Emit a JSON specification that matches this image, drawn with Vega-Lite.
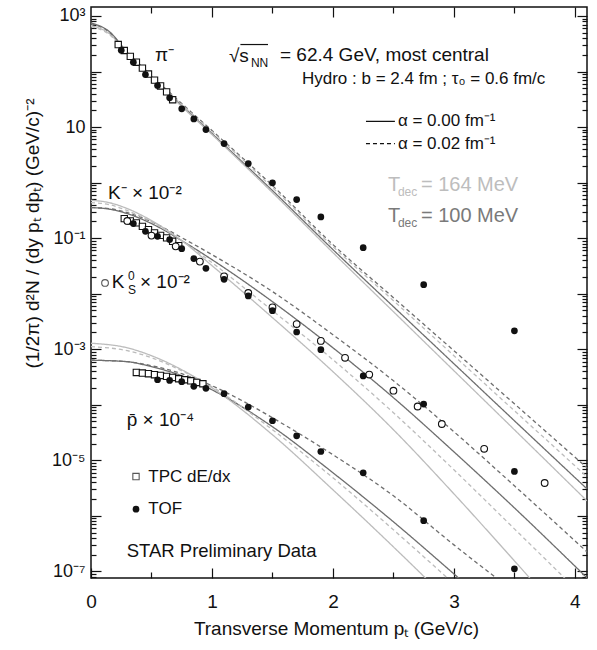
{
  "$schema": "https://vega.github.io/schema/vega-lite/v6.json",
  "width": 496,
  "height": 571,
  "autosize": "none",
  "padding": {"left": 91, "top": 7, "right": 10, "bottom": 72},
  "background": "white",
  "config": {
    "font": "Liberation Sans",
    "view": {"stroke": "#111", "strokeWidth": 1.5},
    "axis": {"domain": false, "grid": false, "tickColor": "#111", "tickWidth": 1.2, "labelColor": "#111", "titleColor": "#111", "labelFont": "Liberation Sans", "titleFont": "Liberation Sans", "titleFontWeight": "normal", "labelOverlap": false, "labelBound": false, "labelFlush": false}
  },
  "datasets": {
    "curves": [
      {"s":"pi","T":"100","a":"0.00","x":0,"y":748},{"s":"pi","T":"100","a":"0.00","x":0.15,"y":526},{"s":"pi","T":"100","a":"0.00","x":0.3,"y":220},{"s":"pi","T":"100","a":"0.00","x":0.5,"y":81.3},{"s":"pi","T":"100","a":"0.00","x":0.75,"y":24.4},{"s":"pi","T":"100","a":"0.00","x":1,"y":7.64},{"s":"pi","T":"100","a":"0.00","x":1.5,"y":0.718},{"s":"pi","T":"100","a":"0.00","x":2,"y":0.0621},{"s":"pi","T":"100","a":"0.00","x":2.5,"y":0.00583},{"s":"pi","T":"100","a":"0.00","x":3,"y":0.000548},{"s":"pi","T":"100","a":"0.00","x":3.5,"y":0.0000515},{"s":"pi","T":"100","a":"0.00","x":4.1,"y":0.00000306},
      {"s":"pi","T":"164","a":"0.00","x":0,"y":674},{"s":"pi","T":"164","a":"0.00","x":0.15,"y":484},{"s":"pi","T":"164","a":"0.00","x":0.3,"y":211},{"s":"pi","T":"164","a":"0.00","x":0.5,"y":78},{"s":"pi","T":"164","a":"0.00","x":0.75,"y":23.4},{"s":"pi","T":"164","a":"0.00","x":1,"y":7.33},{"s":"pi","T":"164","a":"0.00","x":1.5,"y":0.66},{"s":"pi","T":"164","a":"0.00","x":2,"y":0.0548},{"s":"pi","T":"164","a":"0.00","x":2.5,"y":0.00474},{"s":"pi","T":"164","a":"0.00","x":3,"y":0.00041},{"s":"pi","T":"164","a":"0.00","x":3.5,"y":0.0000355},{"s":"pi","T":"164","a":"0.00","x":4.1,"y":0.00000186},
      {"s":"pi","T":"100","a":"0.02","x":0,"y":733},{"s":"pi","T":"100","a":"0.02","x":0.15,"y":515},{"s":"pi","T":"100","a":"0.02","x":0.3,"y":220},{"s":"pi","T":"100","a":"0.02","x":0.5,"y":84.7},{"s":"pi","T":"100","a":"0.02","x":0.75,"y":26.5},{"s":"pi","T":"100","a":"0.02","x":1,"y":8.65},{"s":"pi","T":"100","a":"0.02","x":1.5,"y":0.883},{"s":"pi","T":"100","a":"0.02","x":2,"y":0.0764},{"s":"pi","T":"100","a":"0.02","x":2.5,"y":0.00847},{"s":"pi","T":"100","a":"0.02","x":3,"y":0.00094},{"s":"pi","T":"100","a":"0.02","x":3.5,"y":0.000104},{"s":"pi","T":"100","a":"0.02","x":4.1,"y":0.00000733},
      {"s":"pi","T":"164","a":"0.02","x":0,"y":647},{"s":"pi","T":"164","a":"0.02","x":0.15,"y":464},{"s":"pi","T":"164","a":"0.02","x":0.3,"y":207},{"s":"pi","T":"164","a":"0.02","x":0.5,"y":81.3},{"s":"pi","T":"164","a":"0.02","x":0.75,"y":25.4},{"s":"pi","T":"164","a":"0.02","x":1,"y":8.29},{"s":"pi","T":"164","a":"0.02","x":1.5,"y":0.813},{"s":"pi","T":"164","a":"0.02","x":2,"y":0.0703},{"s":"pi","T":"164","a":"0.02","x":2.5,"y":0.00748},{"s":"pi","T":"164","a":"0.02","x":3,"y":0.000764},{"s":"pi","T":"164","a":"0.02","x":3.5,"y":0.000078},{"s":"pi","T":"164","a":"0.02","x":4.1,"y":0.00000505},
      {"s":"k","T":"100","a":"0.02","x":0,"y":0.355},{"s":"k","T":"100","a":"0.02","x":0.15,"y":0.34},{"s":"k","T":"100","a":"0.02","x":0.3,"y":0.288},{"s":"k","T":"100","a":"0.02","x":0.5,"y":0.198},{"s":"k","T":"100","a":"0.02","x":0.75,"y":0.102},{"s":"k","T":"100","a":"0.02","x":1,"y":0.0504},{"s":"k","T":"100","a":"0.02","x":1.5,"y":0.0109},{"s":"k","T":"100","a":"0.02","x":2,"y":0.00182},{"s":"k","T":"100","a":"0.02","x":2.5,"y":0.00027},{"s":"k","T":"100","a":"0.02","x":3,"y":0.0000327},{"s":"k","T":"100","a":"0.02","x":3.5,"y":0.00000347},{"s":"k","T":"100","a":"0.02","x":4.1,"y":2.25e-7},
      {"s":"k","T":"100","a":"0.00","x":0,"y":0.355},{"s":"k","T":"100","a":"0.00","x":0.15,"y":0.333},{"s":"k","T":"100","a":"0.00","x":0.3,"y":0.276},{"s":"k","T":"100","a":"0.00","x":0.5,"y":0.183},{"s":"k","T":"100","a":"0.00","x":0.75,"y":0.0902},{"s":"k","T":"100","a":"0.00","x":1,"y":0.041},{"s":"k","T":"100","a":"0.00","x":1.5,"y":0.00718},{"s":"k","T":"100","a":"0.00","x":2,"y":0.00106},{"s":"k","T":"100","a":"0.00","x":2.5,"y":0.000134},{"s":"k","T":"100","a":"0.00","x":3,"y":0.0000142},{"s":"k","T":"100","a":"0.00","x":3.5,"y":0.00000139},{"s":"k","T":"100","a":"0.00","x":4.1,"y":7.64e-8},
      {"s":"k","T":"164","a":"0.02","x":0,"y":0.436},{"s":"k","T":"164","a":"0.02","x":0.15,"y":0.402},{"s":"k","T":"164","a":"0.02","x":0.3,"y":0.313},{"s":"k","T":"164","a":"0.02","x":0.5,"y":0.198},{"s":"k","T":"164","a":"0.02","x":0.75,"y":0.0902},{"s":"k","T":"164","a":"0.02","x":1,"y":0.0362},{"s":"k","T":"164","a":"0.02","x":1.5,"y":0.00494},{"s":"k","T":"164","a":"0.02","x":2,"y":0.000647},{"s":"k","T":"164","a":"0.02","x":2.5,"y":0.0000718},{"s":"k","T":"164","a":"0.02","x":3,"y":0.00000674},{"s":"k","T":"164","a":"0.02","x":3.5,"y":5.83e-7},{"s":"k","T":"164","a":"0.02","x":4.1,"y":3.06e-8},
      {"s":"k","T":"164","a":"0.00","x":0,"y":0.48},{"s":"k","T":"164","a":"0.00","x":0.15,"y":0.436},{"s":"k","T":"164","a":"0.00","x":0.3,"y":0.34},{"s":"k","T":"164","a":"0.00","x":0.5,"y":0.207},{"s":"k","T":"164","a":"0.00","x":0.75,"y":0.0902},{"s":"k","T":"164","a":"0.00","x":1,"y":0.032},{"s":"k","T":"164","a":"0.00","x":1.5,"y":0.0037},{"s":"k","T":"164","a":"0.00","x":2,"y":0.000394},{"s":"k","T":"164","a":"0.00","x":2.5,"y":0.0000355},{"s":"k","T":"164","a":"0.00","x":3,"y":0.00000249},{"s":"k","T":"164","a":"0.00","x":3.5,"y":1.55e-7},{"s":"k","T":"164","a":"0.00","x":4.1,"y":5.15e-9},
      {"s":"p","T":"100","a":"0.02","x":0,"y":0.000634},{"s":"p","T":"100","a":"0.02","x":0.3,"y":0.000596},{"s":"p","T":"100","a":"0.02","x":0.5,"y":0.000505},{"s":"p","T":"100","a":"0.02","x":0.75,"y":0.000362},{"s":"p","T":"100","a":"0.02","x":1,"y":0.00022},{"s":"p","T":"100","a":"0.02","x":1.25,"y":0.000118},{"s":"p","T":"100","a":"0.02","x":1.5,"y":0.0000583},{"s":"p","T":"100","a":"0.02","x":2,"y":0.0000126},{"s":"p","T":"100","a":"0.02","x":2.5,"y":0.00000229},{"s":"p","T":"100","a":"0.02","x":3,"y":3.0e-7},{"s":"p","T":"100","a":"0.02","x":3.5,"y":4.27e-8},
      {"s":"p","T":"100","a":"0.00","x":0,"y":0.000634},{"s":"p","T":"100","a":"0.00","x":0.3,"y":0.000596},{"s":"p","T":"100","a":"0.00","x":0.5,"y":0.000484},{"s":"p","T":"100","a":"0.00","x":0.75,"y":0.000333},{"s":"p","T":"100","a":"0.00","x":1,"y":0.000186},{"s":"p","T":"100","a":"0.00","x":1.5,"y":0.0000402},{"s":"p","T":"100","a":"0.00","x":2,"y":0.00000596},{"s":"p","T":"100","a":"0.00","x":2.5,"y":7.8e-7},{"s":"p","T":"100","a":"0.00","x":3,"y":9e-8},{"s":"p","T":"100","a":"0.00","x":3.5,"y":1e-8},
      {"s":"p","T":"164","a":"0.00","x":0,"y":0.00128},{"s":"p","T":"164","a":"0.00","x":0.3,"y":0.00106},{"s":"p","T":"164","a":"0.00","x":0.5,"y":0.000764},{"s":"p","T":"164","a":"0.00","x":0.75,"y":0.000427},{"s":"p","T":"164","a":"0.00","x":1,"y":0.000202},{"s":"p","T":"164","a":"0.00","x":1.5,"y":0.0000288},{"s":"p","T":"164","a":"0.00","x":2,"y":0.00000294},{"s":"p","T":"164","a":"0.00","x":2.5,"y":2.76e-7},{"s":"p","T":"164","a":"0.00","x":3,"y":2.39e-8},
      {"s":"p","T":"164","a":"0.02","x":0,"y":0.00111},{"s":"p","T":"164","a":"0.02","x":0.3,"y":0.00094},{"s":"p","T":"164","a":"0.02","x":0.5,"y":0.000703},{"s":"p","T":"164","a":"0.02","x":0.75,"y":0.00041},{"s":"p","T":"164","a":"0.02","x":1,"y":0.000211},{"s":"p","T":"164","a":"0.02","x":1.5,"y":0.0000355},{"s":"p","T":"164","a":"0.02","x":2,"y":0.00000484},{"s":"p","T":"164","a":"0.02","x":2.5,"y":5.6e-7},{"s":"p","T":"164","a":"0.02","x":3,"y":5.96e-8}
    ],
    "tof": [
      {"s":"pi","x":0.25,"y":242},{"s":"pi","x":0.35,"y":147},{"s":"pi","x":0.45,"y":88},{"s":"pi","x":0.55,"y":56},{"s":"pi","x":0.65,"y":33.6},{"s":"pi","x":0.75,"y":21.3},{"s":"pi","x":0.85,"y":14},{"s":"pi","x":0.95,"y":9},{"s":"pi","x":1.1,"y":5.04},{"s":"pi","x":1.3,"y":2.2},{"s":"pi","x":1.5,"y":0.99},{"s":"pi","x":1.7,"y":0.494},{"s":"pi","x":1.9,"y":0.241},{"s":"pi","x":2.25,"y":0.0674},{"s":"pi","x":2.75,"y":0.0145},{"s":"pi","x":3.5,"y":0.00214},
      {"s":"k","x":0.35,"y":0.1825},{"s":"k","x":0.45,"y":0.1327},{"s":"k","x":0.55,"y":0.108},{"s":"k","x":0.65,"y":0.094},{"s":"k","x":0.75,"y":0.0647},{"s":"k","x":0.85,"y":0.0428},{"s":"k","x":0.95,"y":0.0286},{"s":"k","x":1.1,"y":0.0181},{"s":"k","x":1.3,"y":0.0091},{"s":"k","x":1.5,"y":0.00494},{"s":"k","x":1.7,"y":0.00204},{"s":"k","x":1.9,"y":0.00098},{"s":"k","x":2.25,"y":0.00033},{"s":"k","x":2.75,"y":0.000103},{"s":"k","x":3.5,"y":0.0000063},
      {"s":"p","x":0.55,"y":0.000282},{"s":"p","x":0.65,"y":0.000274},{"s":"p","x":0.75,"y":0.00026},{"s":"p","x":0.85,"y":0.000215},{"s":"p","x":0.95,"y":0.000198},{"s":"p","x":1.1,"y":0.000158},{"s":"p","x":1.3,"y":0.000091},{"s":"p","x":1.5,"y":0.0000515},{"s":"p","x":1.7,"y":0.0000276},{"s":"p","x":1.9,"y":0.0000144},{"s":"p","x":2.25,"y":0.00000595},{"s":"p","x":2.75,"y":8.2e-7},{"s":"p","x":3.5,"y":1.11e-7}
    ],
    "tpc": [
      {"s":"pi","x":0.225,"y":306},{"s":"pi","x":0.275,"y":239},{"s":"pi","x":0.325,"y":187},{"s":"pi","x":0.375,"y":147},{"s":"pi","x":0.425,"y":115},{"s":"pi","x":0.475,"y":90},{"s":"pi","x":0.525,"y":70},{"s":"pi","x":0.575,"y":55},{"s":"pi","x":0.625,"y":43},{"s":"pi","x":0.675,"y":31},
      {"s":"k","x":0.275,"y":0.2245},{"s":"k","x":0.325,"y":0.204},{"s":"k","x":0.375,"y":0.188},{"s":"k","x":0.425,"y":0.163},{"s":"k","x":0.475,"y":0.142},{"s":"k","x":0.525,"y":0.124},{"s":"k","x":0.575,"y":0.112},{"s":"k","x":0.625,"y":0.101},{"s":"k","x":0.675,"y":0.0876},{"s":"k","x":0.725,"y":0.0733},
      {"s":"p","x":0.375,"y":0.000382},{"s":"p","x":0.425,"y":0.000372},{"s":"p","x":0.475,"y":0.000362},{"s":"p","x":0.525,"y":0.000348},{"s":"p","x":0.575,"y":0.000337},{"s":"p","x":0.625,"y":0.000324},{"s":"p","x":0.675,"y":0.00031},{"s":"p","x":0.725,"y":0.000294},{"s":"p","x":0.775,"y":0.000282},{"s":"p","x":0.825,"y":0.00027},{"s":"p","x":0.875,"y":0.000252},{"s":"p","x":0.925,"y":0.000239}
    ],
    "k0s": [
      {"x":0.3,"y":0.204},{"x":0.5,"y":0.111},{"x":0.7,"y":0.0711},{"x":0.9,"y":0.0378},{"x":1.1,"y":0.0205},{"x":1.3,"y":0.0103},{"x":1.5,"y":0.00566},{"x":1.7,"y":0.00284},{"x":1.9,"y":0.00141},{"x":2.1,"y":0.0007},{"x":2.3,"y":0.00035},{"x":2.5,"y":0.000179},{"x":2.7,"y":0.000093},{"x":2.9,"y":0.000045},{"x":3.25,"y":0.0000161},{"x":3.75,"y":0.0000039}
    ]
  },
  "layer": [
    {
      "data": {"name": "curves"},
      "mark": {"type": "line", "strokeWidth": 1.3, "clip": true, "interpolate": "monotone"},
      "encoding": {
        "x": {"field": "x", "type": "quantitative", "scale": {"domain": [0, 4.1], "nice": false, "zero": false},
          "axis": {"orient": "bottom", "values": [0, 0.5, 1, 1.5, 2, 2.5, 3, 3.5, 4],
            "tickSize": {"condition": {"test": "datum.value % 1 === 0", "value": -10}, "value": -6},
            "labelExpr": "datum.value % 1 === 0 ? format(datum.value, 'd') : ''",
            "labelFontSize": 19, "labelPadding": 24,
            "title": "Transverse Momentum pₜ (GeV/c)", "titleFontSize": 19, "titleX": 245, "titleY": 50, "titleBaseline": "middle", "titleAnchor": "middle", "titleAlign": "center"}},
        "y": {"field": "y", "type": "quantitative", "scale": {"type": "log", "domain": [7.6e-8, 1450], "nice": false},
          "axis": {"orient": "left",
            "values": [8e-8,9e-8,1e-7,2e-7,3e-7,4e-7,5e-7,6e-7,7e-7,8e-7,9e-7,1e-6,2e-6,3e-6,4e-6,5e-6,6e-6,7e-6,8e-6,9e-6,1e-5,2e-5,3e-5,4e-5,5e-5,6e-5,7e-5,8e-5,9e-5,1e-4,2e-4,3e-4,4e-4,5e-4,6e-4,7e-4,8e-4,9e-4,0.001,0.002,0.003,0.004,0.005,0.006,0.007,0.008,0.009,0.01,0.02,0.03,0.04,0.05,0.06,0.07,0.08,0.09,0.1,0.2,0.3,0.4,0.5,0.6,0.7,0.8,0.9,1,2,3,4,5,6,7,8,9,10,20,30,40,50,60,70,80,90,100,200,300,400,500,600,700,800,900,1000],
            "tickSize": {"condition": {"test": "indexof([1000,100,10,1,0.1,0.01,0.001,0.0001,0.00001,0.000001,1e-7], datum.value) >= 0", "value": -10}, "value": -5},
            "labelExpr": "datum.value == 1000 ? '10³' : datum.value == 10 ? '10' : datum.value == 0.1 ? '10⁻¹' : datum.value == 0.001 ? '10⁻³' : datum.value == 0.00001 ? '10⁻⁵' : datum.value == 1e-7 ? '10⁻⁷' : ''",
            "labelFontSize": 18, "labelPadding": 16,
            "title": "(1/2π) d²N / (dy pₜ dpₜ) (GeV/c)⁻²", "titleFontSize": 19, "titleX": -59, "titleY": 226, "titleBaseline": "middle", "titleAnchor": "middle", "titleAlign": "center", "titleAngle": 270}},
        "color": {"field": "T", "type": "nominal", "scale": {"domain": ["164", "100"], "range": ["#bcbcbc", "#6e6e6e"]}, "legend": null},
        "strokeDash": {"field": "a", "type": "nominal", "scale": {"domain": ["0.00", "0.02"], "range": [[1, 0], [4, 3]]}, "legend": null},
        "detail": {"field": "s"}
      }
    },
    {
      "data": {"name": "tpc"},
      "mark": {"type": "point", "shape": "square", "size": 40, "filled": false, "stroke": "#111", "strokeWidth": 1.1, "fill": "white", "fillOpacity": 1},
      "encoding": {"x": {"field": "x", "type": "quantitative", "axis": null}, "y": {"field": "y", "type": "quantitative", "axis": null}}
    },
    {
      "data": {"name": "k0s"},
      "mark": {"type": "point", "shape": "circle", "size": 45, "filled": false, "stroke": "#111", "strokeWidth": 1.1, "fill": "white", "fillOpacity": 1},
      "encoding": {"x": {"field": "x", "type": "quantitative", "axis": null}, "y": {"field": "y", "type": "quantitative", "axis": null}}
    },
    {
      "data": {"name": "tof"},
      "mark": {"type": "point", "shape": "circle", "size": 45, "filled": true, "color": "#111", "opacity": 1},
      "encoding": {"x": {"field": "x", "type": "quantitative", "axis": null}, "y": {"field": "y", "type": "quantitative", "axis": null}}
    },
    {
      "data": {"values": [{"x": 0.372, "y": 0.0000051}]},
      "mark": {"type": "point", "shape": "square", "size": 40, "filled": false, "stroke": "#111", "strokeWidth": 1.1},
      "encoding": {"x": {"field": "x", "type": "quantitative", "axis": null}, "y": {"field": "y", "type": "quantitative", "axis": null}}
    },
    {
      "data": {"values": [{"x": 0.372, "y": 0.00000132}]},
      "mark": {"type": "point", "shape": "circle", "size": 45, "filled": true, "color": "#111", "opacity": 1},
      "encoding": {"x": {"field": "x", "type": "quantitative", "axis": null}, "y": {"field": "y", "type": "quantitative", "axis": null}}
    },
    {
      "data": {"values": [{"x": 0.116, "y": 0.0156}]},
      "mark": {"type": "point", "shape": "circle", "size": 45, "filled": false, "stroke": "#111", "strokeWidth": 1.1},
      "encoding": {"x": {"field": "x", "type": "quantitative", "axis": null}, "y": {"field": "y", "type": "quantitative", "axis": null}}
    },
    {
      "data": {"values": [{"a": "0.00", "x": 2.273, "x2": 2.512, "y": 12.7}, {"a": "0.02", "x": 2.273, "x2": 2.512, "y": 5.04}]},
      "mark": {"type": "rule", "color": "#111", "strokeWidth": 1.3},
      "encoding": {"x": {"field": "x", "type": "quantitative", "axis": null}, "x2": {"field": "x2"}, "y": {"field": "y", "type": "quantitative", "axis": null},
        "strokeDash": {"field": "a", "type": "nominal", "legend": null}}
    },
    {
      "data": {"values": [{"x": 1.235, "x2": 1.463, "y": 306}]},
      "mark": {"type": "rule", "color": "#111", "strokeWidth": 1.2},
      "encoding": {"x": {"field": "x", "type": "quantitative", "axis": null}, "x2": {"field": "x2"}, "y": {"field": "y", "type": "quantitative", "axis": null}}
    },
    {
      "data": {"values": [
        {"x": 0.529, "y": 202, "t": "π⁻"},
        {"x": 1.14, "y": 194, "t": "√s"},
        {"x": 1.562, "y": 202, "t": "= 62.4 GeV, most central"},
        {"x": 0.14, "y": 0.661, "t": "K⁻ × 10⁻²"},
        {"x": 0.171, "y": 0.01644, "t": "K"},
        {"x": 0.405, "y": 0.01644, "t": "× 10⁻²"},
        {"x": 0.295, "y": 0.0000537, "t": "p̄ × 10⁻⁴"}
      ]},
      "mark": {"type": "text", "align": "left", "baseline": "middle", "fontSize": 19, "color": "#111"},
      "encoding": {"x": {"field": "x", "type": "quantitative", "axis": null}, "y": {"field": "y", "type": "quantitative", "axis": null}, "text": {"field": "t"}}
    },
    {
      "data": {"values": [
        {"x": 1.744, "y": 71.8, "t": "Hydro : b = 2.4 fm ; τ₀ = 0.6 fm/c"},
        {"x": 2.537, "y": 12.7, "t": "α = 0.00 fm⁻¹"},
        {"x": 2.537, "y": 5.04, "t": "α = 0.02 fm⁻¹"},
        {"x": 0.474, "y": 0.0000051, "t": "TPC dE/dx"},
        {"x": 0.474, "y": 0.00000132, "t": "TOF"}
      ]},
      "mark": {"type": "text", "align": "left", "baseline": "middle", "fontSize": 17, "color": "#111"},
      "encoding": {"x": {"field": "x", "type": "quantitative", "axis": null}, "y": {"field": "y", "type": "quantitative", "axis": null}, "text": {"field": "t"}}
    },
    {
      "data": {"values": [{"x": 0.295, "y": 2.28e-7, "t": "STAR Preliminary Data"}]},
      "mark": {"type": "text", "align": "left", "baseline": "middle", "fontSize": 18.5, "color": "#111"},
      "encoding": {"x": {"field": "x", "type": "quantitative", "axis": null}, "y": {"field": "y", "type": "quantitative", "axis": null}, "text": {"field": "t"}}
    },
    {
      "data": {"values": [
        {"x": 1.322, "y": 145, "t": "NN"},
        {"x": 0.306, "y": 0.0205, "t": "0"},
        {"x": 0.306, "y": 0.0118, "t": "S"}
      ]},
      "mark": {"type": "text", "align": "left", "baseline": "middle", "fontSize": 12, "color": "#111"},
      "encoding": {"x": {"field": "x", "type": "quantitative", "axis": null}, "y": {"field": "y", "type": "quantitative", "axis": null}, "text": {"field": "t"}}
    },
    {
      "data": {"values": [
        {"x": 2.455, "y": 0.92, "t": "T"},
        {"x": 2.727, "y": 0.92, "t": "= 164 MeV"}
      ]},
      "mark": {"type": "text", "align": "left", "baseline": "middle", "fontSize": 20, "color": "#bdbdbd"},
      "encoding": {"x": {"field": "x", "type": "quantitative", "axis": null}, "y": {"field": "y", "type": "quantitative", "axis": null}, "text": {"field": "t"}}
    },
    {
      "data": {"values": [{"x": 2.537, "y": 0.689, "t": "dec"}]},
      "mark": {"type": "text", "align": "left", "baseline": "middle", "fontSize": 12, "color": "#bdbdbd"},
      "encoding": {"x": {"field": "x", "type": "quantitative", "axis": null}, "y": {"field": "y", "type": "quantitative", "axis": null}, "text": {"field": "t"}}
    },
    {
      "data": {"values": [
        {"x": 2.455, "y": 0.247, "t": "T"},
        {"x": 2.727, "y": 0.247, "t": "= 100 MeV"}
      ]},
      "mark": {"type": "text", "align": "left", "baseline": "middle", "fontSize": 20, "color": "#7a7a7a"},
      "encoding": {"x": {"field": "x", "type": "quantitative", "axis": null}, "y": {"field": "y", "type": "quantitative", "axis": null}, "text": {"field": "t"}}
    },
    {
      "data": {"values": [{"x": 2.537, "y": 0.186, "t": "dec"}]},
      "mark": {"type": "text", "align": "left", "baseline": "middle", "fontSize": 12, "color": "#7a7a7a"},
      "encoding": {"x": {"field": "x", "type": "quantitative", "axis": null}, "y": {"field": "y", "type": "quantitative", "axis": null}, "text": {"field": "t"}}
    },
    {
      "data": {"values": [{"x": 0, "y": 1}]},
      "mark": {"type": "point", "opacity": 0},
      "encoding": {
        "x": {"field": "x", "type": "quantitative", "scale": {"domain": [0, 4.1], "nice": false, "zero": false},
          "axis": {"orient": "top", "values": [0.5, 1, 1.5, 2, 2.5, 3, 3.5, 4], "labels": false, "title": null,
            "tickSize": {"condition": {"test": "datum.value % 1 === 0", "value": -10}, "value": -6}}},
        "y": {"field": "y", "type": "quantitative", "scale": {"type": "log", "domain": [7.6e-8, 1450], "nice": false},
          "axis": {"orient": "right", "labels": false, "title": null,
            "values": [8e-8,9e-8,1e-7,2e-7,3e-7,4e-7,5e-7,6e-7,7e-7,8e-7,9e-7,1e-6,2e-6,3e-6,4e-6,5e-6,6e-6,7e-6,8e-6,9e-6,1e-5,2e-5,3e-5,4e-5,5e-5,6e-5,7e-5,8e-5,9e-5,1e-4,2e-4,3e-4,4e-4,5e-4,6e-4,7e-4,8e-4,9e-4,0.001,0.002,0.003,0.004,0.005,0.006,0.007,0.008,0.009,0.01,0.02,0.03,0.04,0.05,0.06,0.07,0.08,0.09,0.1,0.2,0.3,0.4,0.5,0.6,0.7,0.8,0.9,1,2,3,4,5,6,7,8,9,10,20,30,40,50,60,70,80,90,100,200,300,400,500,600,700,800,900,1000],
            "tickSize": {"condition": {"test": "indexof([1000,100,10,1,0.1,0.01,0.001,0.0001,0.00001,0.000001,1e-7], datum.value) >= 0", "value": -10}, "value": -5}}}
      }
    }
  ],
  "resolve": {"axis": {"x": "independent", "y": "independent"}}
}
